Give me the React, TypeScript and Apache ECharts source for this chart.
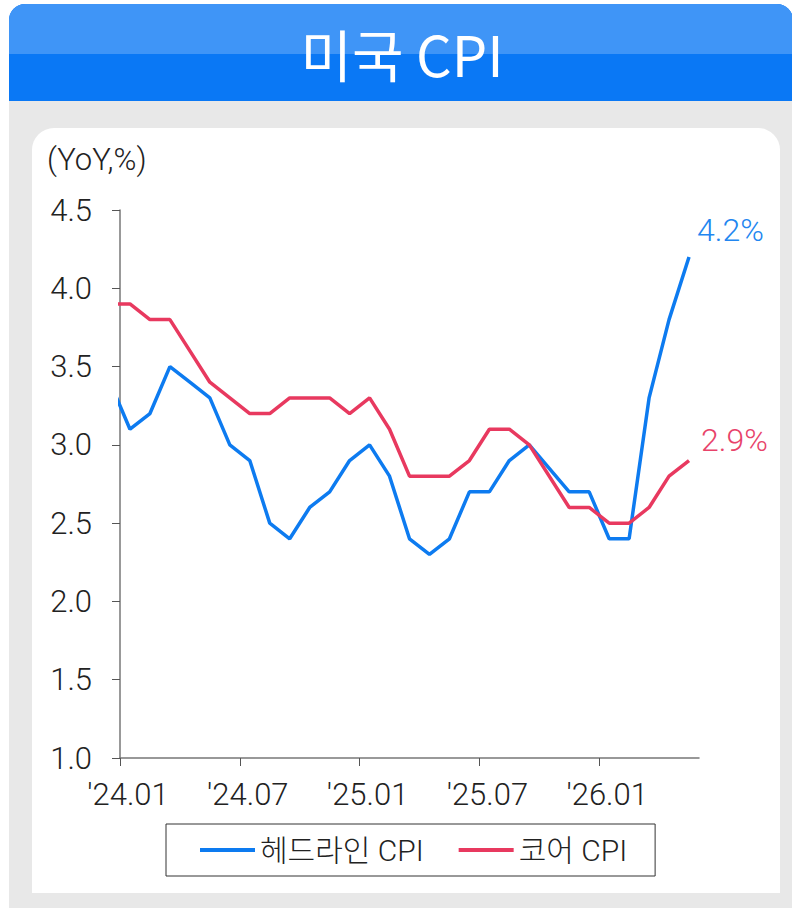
import React, { useEffect, useRef } from "react";
import * as echarts from "echarts";

// Month labels (first entry '23.12 lies left of the axis and is clipped)
const months: string[] = [
  "'23.12",
  "'24.01", "'24.02", "'24.03", "'24.04", "'24.05", "'24.06",
  "'24.07", "'24.08", "'24.09", "'24.10", "'24.11", "'24.12",
  "'25.01", "'25.02", "'25.03", "'25.04", "'25.05", "'25.06",
  "'25.07", "'25.08", "'25.09", "'25.10", "'25.11", "'25.12",
  "'26.01", "'26.02", "'26.03", "'26.04", "'26.05",
];

const headline: (number | null)[] = [
  3.4,
  3.1, 3.2, 3.5, 3.4, 3.3, 3.0,
  2.9, 2.5, 2.4, 2.6, 2.7, 2.9,
  3.0, 2.8, 2.4, 2.3, 2.4, 2.7,
  2.7, 2.9, 3.0, null, 2.7, 2.7,
  2.4, 2.4, 3.3, 3.8, 4.2,
];

const core: (number | null)[] = [
  3.9,
  3.9, 3.8, 3.8, 3.6, 3.4, 3.3,
  3.2, 3.2, 3.3, 3.3, 3.3, 3.2,
  3.3, 3.1, 2.8, 2.8, 2.8, 2.9,
  3.1, 3.1, 3.0, null, 2.6, 2.6,
  2.5, 2.5, 2.6, 2.8, 2.9,
];

const tickMonths: number[] = [0, 6, 12, 18, 24];
const seriesNames = ["헤드라인 CPI", "코어 CPI"];
const title = "미국 CPI";
const unitLabel = "(YoY,%)";

const BLUE = "#0d7bf0";
const RED = "#e8395f";
const FONT = "Roboto, 'Noto Sans CJK KR', sans-serif";
const LIGHT = 300;

function toPoints(vals: (number | null)[]) {
  const out: [number, number][] = [];
  vals.forEach((v, i) => {
    if (v !== null) out.push([i - 0.5, v]);
  });
  return out;
}

function monthLabel(m: number) {
  return months[m + 1] ?? "";
}

export default function App() {
  const ref = useRef<HTMLDivElement>(null);
  useEffect(() => {
    document.body.style.margin = "0";
    if (!ref.current) return;
    const chart = echarts.init(ref.current, null, { renderer: "svg" });
    chart.setOption({
      animation: false,
      backgroundColor: "#ffffff",
      graphic: [
        { type: "rect", z: -10, shape: { x: 9, y: 90, width: 800, height: 830 }, style: { fill: "#e8e8e8" } },
        { type: "rect", z: -9, shape: { x: 9, y: 4, width: 784, height: 97, r: [16, 16, 0, 0] }, style: { fill: "#0a78f5" } },
        { type: "rect", z: -9, shape: { x: 9, y: 4, width: 784, height: 50, r: [16, 16, 0, 0] }, style: { fill: "#3f95f7" } },
        { type: "rect", z: -8, shape: { x: 32, y: 128, width: 748, height: 765, r: [22, 22, 0, 0] }, style: { fill: "#ffffff" } },
        {
          type: "text", z: 10, x: 402, y: 52,
          style: { text: title, fill: "#ffffff", fontSize: 56, fontWeight: 400, fontFamily: "'Noto Sans CJK KR', Roboto, sans-serif", align: "center", verticalAlign: "middle" },
        },
        {
          type: "text", z: 10, x: 47, y: 159,
          style: { text: unitLabel, fill: "#222222", fontSize: 31, fontWeight: LIGHT, fontFamily: FONT, align: "left", verticalAlign: "middle" },
        },
      ],
      grid: { left: 120, top: 210, width: 579, height: 548, containLabel: false },
      legend: {
        data: seriesNames,
        left: 166,
        top: 824,
        orient: "horizontal",
        borderColor: "#333333",
        borderWidth: 1,
        backgroundColor: "#ffffff",
        padding: [9, 28, 9, 34],
        itemWidth: 55,
        itemHeight: 4,
        itemGap: 35,
        icon: "rect",
        textStyle: { fontSize: 30, fontWeight: LIGHT, color: "#222222", fontFamily: FONT, lineHeight: 34 },
      },
      xAxis: {
        type: "value",
        min: 0,
        max: 29,
        splitLine: { show: false },
        axisLine: { show: true, lineStyle: { color: "#777777", width: 1.5 } },
        axisTick: { show: true, length: 8, customValues: tickMonths, lineStyle: { color: "#555555" } },
        axisLabel: {
          customValues: tickMonths,
          formatter: (v: number) => monthLabel(v),
          fontSize: 31,
          fontWeight: LIGHT,
          color: "#222222",
          fontFamily: FONT,
          margin: 21,
          padding: [0, 0, 0, 16],
        },
      },
      yAxis: {
        type: "value",
        min: 1,
        max: 4.5,
        interval: 0.5,
        splitLine: { show: false },
        axisLine: { show: true, lineStyle: { color: "#777777", width: 1.5 } },
        axisTick: { show: true, length: 8, lineStyle: { color: "#555555" } },
        axisLabel: {
          formatter: (v: number) => v.toFixed(1),
          fontSize: 31,
          fontWeight: LIGHT,
          color: "#222222",
          fontFamily: FONT,
          margin: 28,
        },
      },
      series: [
        {
          name: seriesNames[0],
          type: "line",
          data: toPoints(headline),
          showSymbol: false,
          symbol: "none",
          clip: true,
          color: BLUE,
          lineStyle: { color: BLUE, width: 3.5 },
          endLabel: {
            show: true,
            formatter: (p: any) => p.value[1].toFixed(1) + "%",
            color: "#2286f0",
            fontSize: 32,
            fontWeight: LIGHT,
            fontFamily: FONT,
            distance: 8,
            offset: [0, -27],
          },
        },
        {
          name: seriesNames[1],
          type: "line",
          data: toPoints(core),
          showSymbol: false,
          symbol: "none",
          clip: true,
          color: RED,
          lineStyle: { color: RED, width: 3.5 },
          endLabel: {
            show: true,
            formatter: (p: any) => p.value[1].toFixed(1) + "%",
            color: "#e8436a",
            fontSize: 32,
            fontWeight: LIGHT,
            fontFamily: FONT,
            distance: 12,
            offset: [0, -21],
          },
        },
      ],
    });
    return () => chart.dispose();
  }, []);
  return <div ref={ref} style={{ width: 792, height: 908 }} />;
}
